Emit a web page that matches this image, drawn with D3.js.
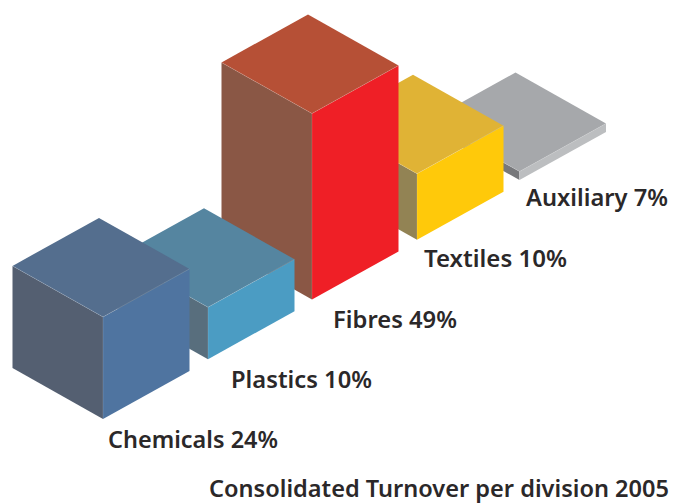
<!DOCTYPE html>
<html>
<head>
<meta charset="utf-8">
<script src="https://cdn.jsdelivr.net/npm/d3@7"></script>
<style>
html,body{margin:0;padding:0;background:#fff}
svg{display:block}
text{font-family:"Noto Sans",sans-serif;font-weight:600;fill:#2b2829}
</style>
</head>
<body>
<div id="chart"></div>
<script>
const divisions = ["Chemicals", "Plastics", "Fibres", "Textiles", "Auxiliary"];
const shares = [24, 10, 49, 10, 7];
// Drawn block heights (the source is not proportional to the shares)
const drawnHeights = [26.9, 13.7, 49, 17.4, 2.24];
const topColors = ["#546e8e", "#5585a0", "#b65036", "#e0b335", "#a6a8ab"];
const leftColors = ["#545f71", "#586e7d", "#8a5745", "#928354", "#77787b"];
const rightColors = ["#4f74a0", "#4b9cc3", "#ef1f26", "#ffc90a", "#bcbec0"];
const chartTitle = "Consolidated Turnover per division 2005";

const W = 679, H = 504;
const svg = d3.select("#chart").append("svg").attr("width", W).attr("height", H);

const slots = divisions.map((_, i) => i);
const groundX = d3.scaleLinear().domain([0, 1, 2, 3, 4]).range([103, 208, 312, 417, 519.5]);
const groundY = d3.scaleLinear().domain([0, 4]).range([419, 180]);
const heightScale = d3.scaleLinear().domain([0, 49]).range([0, 186]);

const rightVec = [86.5, -48];
const leftVec = [-90.5, -51];
const labelOffsets = [[5, 29], [23, 29], [21, 28], [7, 27], [6.5, 26]];
const labelWidths = [170, 141, 124, 143, 142];

const poly = d3.line();
const blocks = slots.map(i => {
  const fx = groundX(i), fy = groundY(i), h = heightScale(drawnHeights[i]);
  const F = [fx, fy], T = [fx, fy - h];
  const R = [fx + rightVec[0], fy + rightVec[1]], L = [fx + leftVec[0], fy + leftVec[1]];
  const TR = [R[0], R[1] - h], TL = [L[0], L[1] - h];
  const TB = [TR[0] + leftVec[0], TR[1] + leftVec[1]];
  return {i, F, T, R, L, TR, TL, TB};
});

// painter's order: back to front
const g = svg.selectAll("g.block").data(blocks.slice().reverse()).join("g").attr("class", "block");
g.append("path").attr("d", d => poly([d.T, d.TL, d.L, d.F]) + "Z").attr("fill", d => leftColors[d.i]);
g.append("path").attr("d", d => poly([d.T, d.TR, d.R, d.F]) + "Z").attr("fill", d => rightColors[d.i]);
g.append("path").attr("d", d => poly([d.T, d.TL, d.TB, d.TR]) + "Z").attr("fill", d => topColors[d.i]);
// thin pale highlights along the front edges
g.append("path")
  .attr("d", d => poly([d.TL, d.T, d.TR]) + poly([d.T, d.F]))
  .attr("fill", "none").attr("stroke", "#fff").attr("stroke-opacity", 0.2).attr("stroke-width", 0.7);

svg.selectAll("text.label").data(blocks).join("text").attr("class", "label")
  .attr("x", d => d.F[0] + labelOffsets[d.i][0])
  .attr("y", d => d.F[1] + labelOffsets[d.i][1])
  .attr("font-size", 23.5)
  .attr("textLength", d => labelWidths[d.i])
  .attr("lengthAdjust", "spacingAndGlyphs")
  .text(d => `${divisions[d.i]} ${shares[d.i]}%`);

svg.append("text").attr("x", 209).attr("y", 497)
  .attr("font-size", 23.5)
  .attr("textLength", 460)
  .attr("lengthAdjust", "spacingAndGlyphs")
  .text(chartTitle);
</script>
</body>
</html>
